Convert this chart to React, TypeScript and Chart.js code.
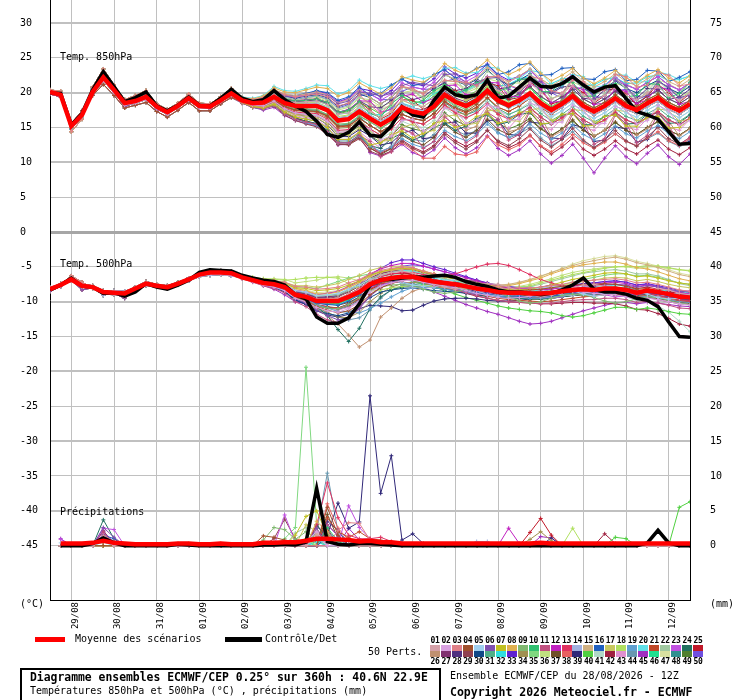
import React, { useEffect, useRef } from 'react';
import { Chart, registerables } from 'chart.js';

Chart.register(...registerables);

const FONT = '"DejaVu Sans Mono", "Liberation Mono", monospace';

// Time steps (hours after 28/08/2026 12Z)
const HOURS = [0,6,12,18,24,30,36,42,48,54,60,66,72,78,84,90,96,102,108,114,120,126,132,138,144,150,156,162,168,174,180,186,192,198,204,210,216,222,228,234,240,246,252,258,264,270,276,282,288,294,300,306,312,318,324,330,336,342,348,354,360];
const PRECIP_HOURS = [6,12,18,24,30,36,42,48,54,60,66,72,78,84,90,96,102,108,114,120,126,132,138,144,150,156,162,168,174,180,186,192,198,204,210,216,222,228,234,240,246,252,258,264,270,276,282,288,294,300,306,312,318,324,330,336,342,348,354,360];
const DAY_TICKS = [12,36,60,84,108,132,156,180,204,228,252,276,300,324,348];
const DATE_LABELS = ['29/08','30/08','31/08','01/09','02/09','03/09','04/09','05/09','06/09','07/09','08/09','09/09','10/09','11/09','12/09'];
const LEFT_TICKS = [30,25,20,15,10,5,0,-5,-10,-15,-20,-25,-30,-35,-40,-45];
const RIGHT_TICKS = [75,70,65,60,55,50,45,40,35,30,25,20,15,10,5,0];

const MEMBER_COLORS = ['#d4a0a8','#d8a0e0','#e08088','#a0502c','#a0d0f0','#8050b0','#c0c020','#e0b050','#80b870','#30c070','#c05080','#c020c0','#e03060','#a0b0e0','#d0b080','#2060c0','#c8c860','#b0e060','#60a0d0','#60e0e8','#c04828','#a0c8a0','#c050e0','#207060','#c01828',
  '#c09070','#803070','#503080','#904050','#104888','#50b088','#30e0e0','#6020d0','#a09050','#80d880','#c0e080','#705028','#e86060','#302878','#50d040','#b0d8c8','#a02040','#e090d0','#6898b0','#a030c0','#20e090','#d8e0a0','#309090','#508030','#7050e0'];

// 850 hPa temperature
const MEAN_850 = [20.1,19.7,15.2,16.8,20.1,22.2,20.4,18.5,18.8,19.4, 18.0,17.2,18.1,19.2,18.1,18.0,18.9,19.9,18.9,18.5, 18.6,19.4,18.5,18.1,18.1,18.1,17.5,16.0,16.2,17.3, 16.3,15.4,16.3,17.9,17.3,17.0,18.0,19.7,18.7,18.1, 18.9,20.3,18.9,18.2,18.9,19.9,18.5,17.5,18.4,19.5, 18.1,17.3,18.1,19.2,18.1,17.5,18.5,19.3,18.1,17.4, 18.4];
const CTRL_850 = [20.0,19.9,15.4,17.0,20.4,23.0,20.9,18.7,19.3,20.1, 18.1,17.4,18.2,19.4,18.2,18.1,19.2,20.5,19.2,18.7, 19.0,20.3,19.0,18.1,17.3,15.9,14.0,13.6,14.3,15.8, 13.9,13.7,15.2,18.0,16.8,16.5,18.9,20.8,19.7,19.4, 19.7,21.8,19.2,19.5,20.8,22.1,20.9,20.8,21.3,22.3, 21.1,20.1,20.8,21.0,19.2,17.3,16.8,16.2,14.4,12.6, 12.7];
// first 18 steps of the members (tight bundle), shared by groups of members
const HEAD_850 = [
  [20.2,19.8,15.0,16.6,20.3,22.5,20.6,18.6,19.0,19.7,18.1,17.3,18.2,19.4,18.2,18.1,19.0,20.1],
  [19.9,19.5,15.4,17.1,19.8,21.7,20.0,18.2,18.5,19.0,17.7,16.9,17.9,18.9,17.8,17.8,18.7,19.6],
  [20.4,20.2,14.4,16.2,20.8,23.4,21.1,19.0,19.6,20.3,18.4,17.6,18.5,19.8,18.5,18.4,19.4,20.6],
  [20.0,19.6,15.6,17.4,19.6,21.2,19.6,17.8,18.2,18.6,17.3,16.5,17.5,18.6,17.4,17.4,18.4,19.3],
  [20.3,20.0,14.8,16.5,20.5,22.9,20.9,18.8,19.3,20.0,18.3,17.5,18.3,19.5,18.3,18.2,19.2,20.3],
  [19.8,19.4,15.2,16.9,19.9,21.9,20.2,18.0,18.6,19.2,17.6,17.0,18.0,19.0,17.9,17.7,18.8,19.7],
];
const HEAD_IDX_850 = [0,1,2,3,4,5,0,2,1,4,3,0,5,1,2,4,5,0,3,2,1,4,5,0,2,3,4,1,5,0,1,2,4,5,3,0,2,1,4,5,3,0,2,1,5,4,3,0,2,5];
// steps 18..60 of each member
const TAIL_850 = [
  [19.0,18.7,18.9,19.8,18.9,18.6,18.7,18.8,18.3,16.9,17.1,18.3, 17.3,16.4,17.4,19.0,18.3,18.0,19.1,20.8,19.8,19.2, 20.1,21.6,20.3,19.6,20.4,21.4,20.0,19.0,19.9,21.0, 19.6,18.8,19.6,20.7,19.6,19.0,20.0,20.8,19.6,18.9,19.9],
  [18.7,18.2,18.1,18.8,17.7,17.1,16.9,16.7,15.9,14.3,14.4,15.4, 14.8,13.2,13.8,16.0,16.2,14.5,15.1,17.8,17.5,15.6, 16.0,18.2,17.9,16.0,16.2,18.5,18.0,15.6,15.8,18.2, 17.6,15.4,15.6,18.0,17.6,15.5,16.0,18.2,17.4,15.3,16.0],
  [19.3,19.0,19.3,20.4,19.7,19.4,19.6,19.8,19.4,18.1,18.5,19.7, 18.2,17.0,18.5,20.9,20.6,19.8,20.9,21.8,21.6,21.5, 21.0,22.2,22.4,21.1,20.6,22.3,22.0,20.3,19.9,21.8, 21.6,20.0,20.4,22.6,22.3,20.8,21.1,22.9,22.5,21.0,21.2],
  [18.7,18.2,18.2,18.9,18.0,17.5,17.4,17.3,16.7,15.2,15.3,16.3, 15.3,14.4,15.3,16.9,16.3,16.0,17.0,18.8,17.8,17.3, 18.3,19.8,18.5,17.9,18.7,19.8,18.6,17.8,18.7,20.0, 18.6,17.8,18.6,19.7,18.6,18.0,19.0,19.8,18.6,17.9,18.9],
  [19.1,18.7,18.8,19.7,18.7,18.3,18.4,18.5,17.9,16.4,16.6,17.8, 16.8,15.9,16.8,18.4,17.8,17.4,18.4,20.0,18.9,18.2, 18.9,20.2,18.6,17.8,18.4,19.2,17.7,16.6,17.4,18.5, 17.1,16.3,17.1,18.2,17.1,16.5,17.5,18.3,17.1,16.4,17.4],
  [19.0,18.8,19.1,20.2,19.5,19.3,19.6,19.9,19.6,18.4,18.8,20.1, 19.9,19.5,19.9,21.0,21.5,21.2,21.0,22.6,22.7,21.4, 21.1,22.3,22.2,20.5,20.0,21.5,21.6,20.1,19.8,21.9, 21.3,19.2,19.5,21.8,21.0,19.0,19.6,21.6,20.8,19.2,19.8],
  [18.6,18.0,17.8,18.3,17.2,16.5,16.2,15.9,15.0,13.3,13.3,14.3, 12.5,12.8,14.0,14.5,13.5,14.2,15.6,16.0,15.0,15.5, 16.6,17.0,15.6,16.0,17.2,17.3,15.5,15.7,16.9,17.0, 15.2,15.3,16.6,16.8,15.2,15.2,16.5,16.6,14.9,15.0,16.2],
  [19.3,19.1,19.5,20.7,20.1,20.0,20.4,20.8,20.6,19.5,20.0,21.4, 20.6,19.8,20.7,22.3,21.8,21.5,22.5,24.2,23.2,22.6, 23.4,24.7,23.3,22.6,23.3,24.4,22.8,21.7,22.5,23.5, 22.1,21.3,22.1,23.2,22.1,21.5,22.5,23.3,22.1,21.4,22.4],
  [18.8,18.4,18.4,19.1,18.2,17.7,17.7,17.6,16.9,15.5,15.6,16.7, 15.8,14.9,15.8,17.4,16.8,16.5,17.5,19.2,18.2,17.6, 18.5,20.0,18.7,18.1,18.9,20.0,18.8,17.9,18.9,20.0, 18.6,17.8,18.6,19.7,18.6,18.0,19.0,19.8,18.6,17.9,18.9],
  [19.1,18.8,19.0,19.9,19.1,18.8,18.9,19.1,18.6,17.2,17.5,18.7, 17.0,16.5,18.4,19.6,18.4,18.9,20.3,21.1,20.0,20.4, 21.4,21.9,20.2,20.7,21.9,22.0,20.1,20.2,21.5,21.5, 19.5,19.5,21.0,21.3,19.4,19.6,21.3,21.2,19.3,19.9,21.5],
  [18.5,17.9,17.7,18.2,17.0,16.2,15.8,15.5,14.4,12.8,12.8,13.9, 13.0,10.8,11.5,14.8,14.2,12.0,13.0,16.5,15.3,12.8, 13.8,17.2,16.2,13.2,14.0,17.4,16.0,12.8,13.6,17.0, 15.8,12.6,13.4,16.8,15.6,12.8,13.9,17.0,15.4,12.5,13.6],
  [19.1,18.8,19.0,19.9,19.1,18.8,19.0,19.1,18.6,17.2,17.6,18.8, 18.8,17.2,17.6,19.5,19.8,18.6,19.2,21.0,21.1,19.7, 19.8,21.5,21.4,19.5,19.4,21.2,20.6,18.6,18.8,21.0, 20.4,18.3,18.5,20.6,20.2,18.4,19.0,20.9,20.4,18.3,18.8],
  [18.7,18.2,18.1,18.8,17.8,17.2,17.1,17.0,16.2,14.6,14.7,15.8, 14.8,13.9,14.8,16.4,15.8,15.5,16.5,18.2,17.1,16.4, 17.1,18.4,16.9,16.2,16.9,17.9,16.5,15.5,16.4,17.5, 16.1,15.3,16.1,17.2,16.1,15.5,16.5,17.3,16.1,15.4,16.4],
  [18.8,18.5,18.5,19.3,18.5,18.0,18.1,18.0,17.5,15.9,16.2,17.2, 16.3,15.4,16.3,17.9,17.3,17.0,18.0,19.6,18.6,18.0, 18.7,20.0,18.5,17.8,18.4,19.4,18.0,17.0,17.9,19.0, 17.6,16.8,17.6,18.7,17.6,17.0,18.0,18.8,17.6,16.9,17.9],
  [19.3,19.0,19.4,20.5,19.8,19.6,19.8,20.1,19.7,18.5,19.0,20.3, 19.3,18.4,19.3,20.9,20.3,20.0,21.0,22.7,21.8,21.2, 22.1,23.6,22.3,21.6,22.4,23.4,22.0,21.0,21.9,23.0, 21.6,20.8,21.6,22.7,21.6,21.0,22.0,22.8,21.6,20.9,21.9],
  [19.2,19.0,19.3,20.4,19.7,19.6,19.9,20.3,20.0,18.9,19.4,20.8, 19.6,19.9,21.1,22.0,21.0,21.3,22.6,23.3,22.1,22.6, 23.5,24.0,22.6,23.0,24.0,24.2,22.5,22.6,23.5,23.6, 22.0,21.9,23.0,23.3,21.7,21.9,23.2,23.1,21.6,22.2,23.0],
  [18.6,18.0,17.9,18.5,17.4,16.8,16.6,16.4,15.5,13.8,13.9,14.9, 14.6,13.0,13.2,15.0,15.5,14.2,14.6,16.6,16.8,15.4, 15.6,17.4,17.5,16.0,15.9,17.6,17.7,16.1,16.0,17.6, 17.4,15.8,15.9,17.5,17.3,16.0,16.2,17.7,17.4,15.9,16.2],
  [18.9,18.6,18.8,19.6,18.8,18.4,18.5,18.6,18.0,16.6,16.8,18.0, 17.3,16.4,17.3,18.9,18.3,18.0,19.0,20.7,19.6,18.9, 19.6,20.9,19.4,18.6,19.2,20.1,18.6,17.5,18.4,19.5, 18.1,17.3,18.1,19.2,18.1,17.5,18.5,19.3,18.1,17.4,18.4],
  [18.5,17.9,17.7,18.2,17.0,16.2,15.7,15.3,14.3,12.8,12.8,13.8, 12.3,11.6,12.2,13.4,12.6,12.1,13.0,14.6,13.7,13.1, 14.0,15.5,14.2,13.6,14.4,15.5,14.2,13.3,14.2,15.4, 14.0,13.2,14.1,15.2,14.1,13.5,14.5,15.3,14.1,13.4,14.4],
  [19.4,19.2,19.6,20.9,20.3,20.2,20.6,21.1,21.0,19.8,20.3,21.8, 21.0,20.6,21.0,22.0,22.4,22.0,22.5,23.5,23.6,22.8, 22.9,23.7,23.5,22.1,22.0,23.2,22.9,21.2,21.0,22.6, 22.3,20.8,21.0,22.6,22.5,21.5,21.6,23.0,22.6,21.9,22.4],
  [18.7,18.3,18.3,19.0,18.0,17.5,17.4,17.3,16.6,15.1,15.2,16.3, 15.3,14.4,15.3,16.9,16.3,16.0,17.0,18.7,17.7,17.1, 17.9,19.3,17.9,17.3,18.1,19.2,17.9,16.9,17.9,19.0, 17.6,16.8,17.6,18.7,17.6,17.0,18.0,18.8,17.6,16.9,17.9],
  [19.1,18.8,19.1,20.1,19.3,19.0,19.2,19.5,19.0,17.7,18.1,19.4, 18.5,17.5,18.2,20.8,20.3,19.3,20.1,22.5,22.0,20.2, 20.9,23.1,22.0,20.1,20.5,22.6,21.3,19.1,19.9,22.2, 20.6,18.7,19.8,21.9,20.6,18.9,20.2,21.8,20.2,18.8,20.1],
  [19.1,18.9,19.2,20.3,19.6,19.4,19.8,20.1,19.8,18.6,19.1,20.4, 19.8,18.9,19.8,21.4,20.8,20.5,21.5,23.2,22.2,21.6, 22.4,23.8,22.4,21.6,22.3,23.2,21.7,20.6,21.5,22.6, 21.1,20.3,21.1,22.2,21.1,20.5,21.5,22.3,21.1,20.4,21.4],
  [18.6,17.9,17.7,18.2,17.0,16.3,15.9,15.6,14.6,12.9,12.9,13.9, 12.4,12.0,13.4,14.2,13.2,13.8,15.0,15.6,14.6,15.2, 16.3,16.8,15.4,15.8,16.9,17.1,15.5,15.6,16.8,17.0, 15.4,15.4,16.6,16.9,15.5,15.6,16.9,17.1,15.6,15.7,16.8],
  [19.2,18.8,19.0,20.0,19.1,18.8,18.9,19.1,18.6,17.2,17.5,18.7, 17.5,16.2,17.0,19.0,18.9,17.6,18.4,20.6,20.3,19.0, 19.5,21.4,21.0,19.0,19.3,21.5,20.5,18.4,18.8,21.0, 20.0,18.5,19.6,21.0,19.8,18.3,19.5,21.2,20.0,18.6,19.9],
  [18.6,18.1,18.0,18.6,17.5,16.9,16.8,16.6,15.8,14.3,14.4,15.4, 14.8,13.0,13.5,16.2,16.0,14.0,14.8,17.9,17.2,14.6, 15.2,17.8,17.0,14.4,14.8,17.6,16.6,13.7,14.5,17.3, 16.2,13.8,14.6,17.0,16.0,13.9,14.8,17.2,15.9,13.8,14.8],
  [19.1,18.7,18.8,19.7,18.8,18.4,18.5,18.5,17.9,16.4,16.6,17.8, 16.8,15.9,16.8,18.4,17.8,17.5,18.5,20.2,19.2,18.7, 19.5,21.0,19.7,19.1,19.9,20.9,19.5,18.5,19.4,20.5, 19.1,18.3,19.1,20.2,19.1,18.5,19.5,20.3,19.1,18.4,19.4],
  [18.9,18.7,18.9,19.8,19.0,18.7,18.8,19.0,18.5,17.1,17.5,18.8, 18.0,17.8,18.9,19.9,19.0,19.4,20.6,21.4,20.3,20.6, 21.6,22.0,20.5,20.8,21.9,22.0,20.2,19.9,20.8,21.0, 19.2,19.0,20.4,20.5,19.0,19.2,20.6,20.5,19.0,19.4,20.5],
  [18.5,17.9,17.7,18.1,16.8,16.0,15.5,15.1,14.0,12.6,12.5,13.4, 11.6,11.0,11.6,13.0,12.0,11.3,12.2,14.0,12.8,11.9, 12.9,14.6,13.1,12.4,13.4,14.8,13.2,12.2,13.3,14.9, 13.2,12.1,13.2,14.6,13.1,12.3,13.7,15.0,13.4,12.6,13.6],
  [19.1,18.9,19.2,20.2,19.5,19.2,19.5,19.7,19.3,18.0,18.5,19.8, 19.3,18.4,19.3,20.9,20.3,20.0,21.0,22.7,21.7,21.1, 21.9,23.3,21.9,21.1,21.8,22.7,21.2,20.1,21.0,22.1, 20.6,19.8,20.6,21.7,20.6,20.0,21.0,21.8,20.6,19.9,20.9],
  [18.7,18.3,18.5,19.2,18.1,17.6,17.5,17.4,16.7,15.3,15.5,16.6, 15.8,14.9,15.8,17.4,16.8,16.5,17.5,19.1,18.0,17.3, 17.9,19.2,17.7,16.9,17.5,18.4,17.0,16.0,16.9,18.0, 16.6,15.8,16.6,17.7,16.6,16.0,17.0,17.8,16.6,15.9,16.9],
  [19.2,18.8,19.0,19.9,19.0,18.6,18.7,18.8,18.3,16.9,17.1,18.3, 17.0,16.8,17.8,18.5,18.0,18.6,19.9,20.5,19.8,20.3, 21.1,21.7,20.9,21.2,22.0,22.3,21.2,21.3,22.0,22.1, 21.0,21.1,21.9,22.2,21.3,21.4,22.3,22.5,21.7,21.9,22.4],
  [19.2,18.9,19.2,20.3,19.6,19.5,19.8,20.2,19.9,18.7,19.2,20.6, 20.3,19.4,20.3,21.9,21.3,21.0,22.0,23.7,22.7,22.1, 22.8,24.1,22.6,21.8,22.4,23.3,21.7,20.6,21.5,22.6, 21.1,20.3,21.1,22.2,21.1,20.5,21.5,22.3,21.1,20.4,21.4],
  [18.8,18.3,18.2,18.9,17.9,17.4,17.3,17.2,16.4,14.9,15.0,16.1, 14.8,13.9,14.8,16.4,15.8,15.5,16.5,18.3,17.3,16.8, 17.7,19.2,17.9,17.3,18.1,19.2,17.9,16.9,17.9,19.0, 17.6,16.8,17.6,18.7,17.6,17.0,18.0,18.8,17.6,16.9,17.9],
  [18.8,18.5,18.6,19.5,18.6,18.2,18.3,18.4,17.8,16.4,16.6,17.8, 16.8,15.9,16.8,18.4,17.8,17.5,18.5,20.2,19.1,18.4, 19.1,20.4,18.9,18.1,18.7,19.6,18.1,17.0,17.9,19.0, 17.6,16.8,17.6,18.7,17.6,17.0,18.0,18.8,17.6,16.9,17.9],
  [19.0,18.8,19.0,20.0,19.2,18.9,19.1,19.3,18.8,17.5,17.9,19.2, 19.0,18.0,18.6,20.0,20.3,19.1,19.8,21.7,21.6,20.0, 20.6,22.0,21.6,19.8,20.1,21.8,21.3,19.2,19.6,21.5, 20.9,19.0,19.6,21.3,20.9,19.1,19.8,21.5,20.9,19.4,20.0],
  [18.7,18.0,17.8,18.3,17.1,16.3,15.9,15.5,14.4,12.6,12.6,13.7, 12.1,11.1,12.0,13.9,13.0,12.5,13.6,15.5,14.3,13.6, 14.6,16.2,14.7,14.0,14.9,16.1,14.8,13.8,14.8,16.1, 14.6,13.7,14.6,15.8,14.6,14.0,15.0,15.9,14.6,13.9,14.9],
  [18.5,18.0,17.8,18.3,17.1,16.3,15.8,15.3,14.2,12.7,12.6,13.5, 12.0,11.5,12.2,12.8,11.8,10.6,10.6,12.3,11.2,11.0, 11.5,13.7,12.5,11.8,12.5,13.8,12.4,11.5,12.6,14.0, 12.8,12.0,12.9,14.1,13.0,12.4,13.5,14.4,13.1,12.4,13.4],
  [18.8,18.1,18.0,18.6,17.5,16.9,16.6,16.4,15.4,13.7,13.7,14.7, 13.8,12.5,12.8,14.2,14.6,13.4,13.6,15.6,15.8,14.2, 14.2,16.0,16.1,14.0,13.9,15.8,15.6,13.5,13.4,15.4, 15.0,13.0,13.2,15.1,14.8,12.9,13.3,15.2,14.6,12.6,13.0],
  [18.9,18.6,18.8,19.7,18.9,18.6,18.7,18.9,18.4,17.0,17.3,18.6, 17.8,16.9,17.8,19.4,18.8,18.5,19.5,21.2,20.1,19.5, 20.2,21.5,20.0,19.2,19.8,20.7,19.1,18.0,18.9,20.0, 18.6,17.8,18.6,19.7,18.6,18.0,19.0,19.8,18.6,17.9,18.9],
  [18.7,18.2,18.1,18.7,17.6,17.0,16.9,16.8,16.0,14.5,14.6,15.6, 14.3,13.4,14.3,15.9,15.3,15.0,16.0,17.8,16.8,16.3, 17.2,18.7,17.4,16.8,17.6,18.7,17.4,16.4,17.4,18.5, 17.1,16.3,17.1,18.2,17.1,16.5,17.5,18.3,17.1,16.4,17.4],
  [18.6,18.0,17.8,18.3,17.1,16.4,15.9,15.5,14.5,12.9,12.8,13.8, 12.0,11.3,12.0,13.2,12.2,11.5,12.4,14.3,13.1,12.3, 13.1,14.6,12.9,12.1,12.8,13.9,12.3,11.2,12.2,13.5, 11.9,11.0,11.9,13.1,11.9,11.2,12.3,13.2,11.9,11.1,12.1],
  [18.8,18.2,18.0,18.6,17.4,16.7,16.4,16.1,15.1,13.3,13.3,14.4, 13.2,12.0,13.6,15.0,14.0,13.6,15.2,16.8,15.0,14.9, 16.2,17.2,15.0,14.9,16.6,17.4,15.2,14.7,16.3,17.4, 15.0,14.6,16.1,17.1,15.0,14.7,16.3,17.2,15.0,14.6,16.2],
  [18.7,18.1,17.9,18.4,17.2,16.5,16.2,15.9,14.9,13.2,13.2,14.1, 12.3,11.4,12.3,13.9,13.3,13.0,14.0,15.7,14.6,13.9, 14.6,15.9,14.3,13.5,14.1,15.0,13.5,12.4,13.3,14.4, 13.0,12.2,13.0,14.1,13.0,12.4,13.4,14.2,13.0,12.3,13.3],
  [18.5,17.9,17.5,17.9,16.7,16.0,15.6,15.2,14.2,12.5,12.6,13.7, 11.4,10.9,11.6,12.6,11.4,10.8,11.8,13.5,12.1,11.2, 12.1,13.8,12.0,11.0,11.8,13.1,11.2,9.9,11.0,12.6, 10.6,8.5,10.6,12.4,10.8,9.8,11.3,12.5,10.8,9.7,11.2],
  [19.0,18.6,18.7,19.5,18.6,18.2,18.2,18.2,17.6,16.0,16.3,17.4, 16.4,15.5,16.4,18.0,17.4,17.1,18.1,19.9,18.9,18.4, 19.3,20.8,19.5,18.9,19.7,20.8,19.4,18.5,19.4,20.5, 19.1,18.3,19.1,20.2,19.1,18.5,19.5,20.3,19.1,18.4,19.4],
  [18.8,18.6,18.8,19.7,18.9,18.6,18.8,18.9,18.4,17.1,17.5,18.7, 18.5,17.9,18.0,19.4,19.6,19.5,19.9,21.2,21.3,20.7, 21.0,22.2,22.0,21.3,21.4,22.4,22.0,21.0,20.9,22.0, 21.5,20.5,20.5,21.8,21.4,20.4,20.6,21.8,21.3,20.4,20.8],
  [18.9,18.4,18.4,19.2,18.1,17.6,17.6,17.5,16.8,15.3,15.4,16.5, 15.3,14.4,15.3,16.9,16.3,16.0,17.0,18.6,17.5,16.8, 17.4,18.7,17.2,16.4,17.0,17.9,16.5,15.5,16.4,17.5, 16.1,15.3,16.1,17.2,16.1,15.5,16.5,17.3,16.1,15.4,16.4],
  [18.9,18.3,18.2,18.8,17.7,17.1,16.9,16.7,15.8,14.1,14.2,15.2, 13.8,12.9,13.8,15.4,14.8,14.5,15.5,17.1,16.0,15.3, 15.9,17.1,15.6,14.8,15.4,16.3,14.9,13.9,14.8,15.9, 14.6,13.8,14.6,15.7,14.6,14.0,15.0,15.8,14.6,13.9,14.9],
  [19.0,18.7,19.0,20.0,19.3,19.0,19.3,19.5,19.1,17.8,18.3,19.6, 19.8,19.0,19.0,20.2,20.8,20.5,20.5,21.6,22.0,21.3, 21.0,22.0,22.2,21.0,20.5,21.3,21.5,20.0,19.2,20.4, 20.8,19.6,19.1,20.2,20.5,19.5,19.4,20.5,20.6,19.3,19.6],
];

// 500 hPa temperature
const MEAN_500 = [-8.2,-7.6,-6.8,-7.7,-7.9,-8.6,-8.7,-8.8,-8.1,-7.4, -7.7,-7.9,-7.4,-6.8,-6.1,-5.8,-5.8,-5.9,-6.5,-6.9, -7.3,-7.5,-7.9,-9.0,-9.3,-9.9,-9.9,-9.9,-9.3,-8.6, -7.5,-6.9,-6.6,-6.4,-6.4,-6.8,-7.1,-7.3,-7.5,-7.8, -8.1,-8.3,-8.6,-8.7,-8.7,-8.8,-8.8,-8.7,-8.5,-8.3, -8.2,-8.3,-8.1,-8.1,-8.3,-8.7,-8.4,-8.6,-8.9,-9.3, -9.4];
const CTRL_500 = [-8.3,-7.6,-6.6,-7.8,-7.9,-8.8,-8.7,-9.2,-8.6,-7.4, -7.9,-8.2,-7.6,-6.9,-5.8,-5.4,-5.5,-5.6,-6.2,-6.6, -6.9,-7.1,-7.6,-9.0,-9.6,-12.2,-13.1,-13.1,-12.3,-10.3, -7.6,-6.8,-6.8,-6.6,-6.4,-6.5,-6.3,-6.2,-6.5,-7.1, -7.5,-7.8,-8.3,-8.6,-8.6,-8.8,-9.0,-8.8,-8.3,-7.6, -6.6,-8.2,-8.6,-8.6,-8.9,-9.5,-9.8,-10.7,-12.9,-15.0, -15.1];
const HEAD_500 = [
  [-8.0,-7.4,-6.5,-7.5,-7.7,-8.4,-8.5,-8.6,-7.9,-7.1,-7.5,-7.7,-7.2,-6.6,-5.9,-5.5,-5.5,-5.7],
  [-8.4,-7.8,-7.0,-7.9,-8.1,-8.9,-9.0,-9.1,-8.4,-7.7,-7.9,-8.1,-7.6,-7.0,-6.3,-6.0,-6.1,-6.2],
  [-8.1,-7.5,-6.3,-7.2,-8.0,-8.7,-8.6,-9.3,-8.0,-7.3,-7.6,-8.0,-7.5,-6.9,-6.2,-5.9,-5.7,-5.8],
  [-8.3,-7.7,-6.9,-7.9,-7.8,-8.5,-8.9,-8.7,-8.2,-7.5,-7.8,-7.8,-7.3,-6.7,-6.0,-5.7,-5.9,-6.1],
  [-8.0,-7.5,-6.7,-7.5,-7.9,-9.1,-8.4,-8.5,-8.0,-7.2,-7.6,-7.9,-7.6,-7.0,-6.4,-6.2,-6.1,-6.3],
  [-8.5,-7.8,-6.9,-8.3,-8.0,-8.6,-8.8,-9.5,-8.3,-7.6,-7.7,-7.8,-7.3,-6.6,-6.0,-5.7,-5.6,-5.8],
];
const HEAD_IDX_500 = [0,1,2,3,4,5,1,2,3,0,5,4,2,3,0,1,4,5,3,2,0,1,5,4,2,3,4,0,1,5,3,2,0,4,1,5,2,0,3,4,5,1,0,2,3,4,5,1,2,0];
const TAIL_500 = [
  [-6.4,-6.8,-7.2,-7.4,-7.8,-8.8,-9.1,-9.6,-9.6,-9.5,-8.9,-8.2, -7.0,-6.2,-5.8,-5.6,-5.9,-6.6,-7.4,-7.9,-8.2,-8.0, -7.6,-7.4,-7.5,-7.9,-8.5,-9.0,-9.3,-9.1,-8.6,-8.0, -7.6,-7.5,-7.8,-8.2,-8.6,-8.8,-8.4,-8.1,-8.3,-8.8,-9.0],
  [-6.6,-7.1,-7.6,-7.9,-8.4,-9.5,-10.0,-10.8,-11.3,-11.5,-11.0,-10.0, -8.6,-7.8,-7.3,-7.0,-6.9,-7.2,-7.5,-7.8,-8.0,-8.4, -8.8,-9.1,-9.4,-9.5,-9.4,-9.2,-9.0,-8.8,-8.6,-8.5, -8.6,-8.8,-8.9,-9.0,-9.3,-9.6,-9.5,-9.7,-10.0,-10.3,-10.5],
  [-6.3,-6.6,-6.9,-7.0,-7.2,-7.8,-7.9,-8.2,-8.1,-7.9,-7.3,-6.8, -6.0,-5.5,-5.2,-5.0,-5.1,-5.6,-6.0,-6.3,-6.6,-7.0, -7.4,-7.7,-8.0,-8.1,-8.0,-8.0,-7.9,-7.7,-7.5,-7.2, -7.0,-6.9,-6.8,-6.7,-6.9,-7.3,-7.2,-7.5,-7.9,-8.3,-8.5],
  [-6.5,-6.9,-7.4,-7.7,-8.2,-9.4,-9.9,-10.7,-11.2,-11.6,-11.3,-10.4, -9.0,-8.0,-7.4,-7.0,-6.8,-7.0,-7.2,-7.4,-7.6,-7.9, -8.2,-8.3,-8.5,-8.5,-8.4,-8.3,-8.2,-8.0,-7.8,-7.6, -7.5,-7.5,-7.4,-7.5,-7.8,-8.2,-8.1,-8.4,-8.8,-9.2,-9.4],
  [-6.5,-6.8,-7.1,-7.2,-7.5,-8.4,-8.6,-9.1,-9.0,-8.8,-8.2,-7.6, -6.8,-6.6,-6.8,-7.2,-7.6,-7.8,-7.5,-7.0,-6.8,-7.0, -7.5,-8.1,-8.6,-8.9,-8.8,-8.4,-8.0,-7.8,-8.0,-8.4, -8.9,-9.2,-9.0,-8.6,-8.3,-8.5,-8.9,-9.4,-9.6,-9.5,-9.3],
  [-6.6,-7.0,-7.5,-7.8,-8.3,-9.6,-10.2,-11.2,-12.0,-12.6,-12.3,-11.0, -9.2,-8.0,-7.2,-6.7,-6.5,-6.7,-6.9,-7.1,-7.3,-7.6, -7.9,-8.1,-8.3,-8.4,-8.5,-8.6,-8.7,-8.6,-8.4,-8.1, -7.9,-7.8,-7.6,-7.5,-7.6,-7.9,-7.7,-7.9,-8.2,-8.5,-8.6],
  [-6.4,-6.7,-7.0,-7.1,-7.4,-8.0,-8.1,-8.4,-8.3,-8.1,-7.6,-7.0, -6.2,-5.7,-5.4,-5.2,-5.3,-5.7,-6.1,-6.4,-6.8,-7.2, -7.6,-7.9,-8.2,-8.3,-8.3,-8.2,-8.0,-7.6,-7.2,-6.8, -6.5,-6.2,-5.9,-5.8,-6.0,-6.4,-6.3,-6.6,-7.0,-7.3,-7.5],
  [-6.3,-6.6,-6.9,-7.0,-7.3,-8.1,-8.4,-8.9,-8.9,-8.6,-7.9,-7.2, -6.3,-5.7,-5.3,-5.1,-5.2,-5.6,-6.0,-6.3,-6.7,-7.1, -7.4,-7.6,-7.8,-7.7,-7.4,-7.0,-6.6,-6.0,-5.5,-5.0, -4.7,-4.5,-4.3,-4.3,-4.6,-5.1,-5.3,-5.7,-6.2,-6.7,-7.0],
  [-6.6,-7.0,-7.5,-7.8,-8.3,-9.5,-9.9,-10.6,-10.9,-11.0,-10.4,-9.4, -8.4,-7.9,-7.6,-7.5,-7.7,-8.2,-8.6,-8.8,-8.6,-8.2, -8.0,-8.1,-8.6,-9.3,-9.9,-10.2,-10.0,-9.5,-9.1,-8.9, -9.0,-9.4,-9.9,-10.2,-10.0,-9.6,-9.3,-9.4,-9.8,-10.2,-10.4],
  [-6.5,-6.9,-7.3,-7.5,-7.9,-9.0,-9.4,-10.0,-10.1,-10.2,-9.6,-8.8, -7.6,-6.9,-6.5,-6.3,-6.3,-6.6,-6.9,-7.1,-7.4,-7.7, -8.0,-8.2,-8.4,-8.5,-8.5,-8.6,-8.6,-8.5,-8.3,-8.1, -8.0,-8.1,-7.9,-7.9,-8.1,-8.5,-8.3,-8.5,-8.8,-9.1,-9.2],
  [-6.7,-7.2,-7.7,-8.1,-8.7,-10.0,-10.7,-11.8,-12.6,-13.0,-12.4,-10.9, -9.0,-7.9,-7.3,-7.0,-6.9,-7.2,-7.6,-7.9,-8.3,-8.7, -9.1,-9.5,-9.8,-10.0,-10.1,-10.2,-10.3,-10.2,-10.0,-9.8, -9.7,-9.7,-9.5,-9.5,-9.7,-10.1,-9.9,-10.2,-10.5,-10.9,-11.0],
  [-6.4,-6.8,-7.2,-7.3,-7.6,-8.4,-8.6,-9.0,-8.8,-8.5,-7.8,-7.0, -6.0,-5.3,-4.8,-4.5,-4.5,-4.9,-5.3,-5.7,-6.1,-6.6, -7.0,-7.4,-7.8,-8.0,-8.1,-8.2,-8.3,-8.2,-8.0,-7.8, -7.6,-7.5,-7.3,-7.2,-7.4,-7.8,-7.6,-7.9,-8.3,-8.7,-8.9],
  [-6.5,-6.9,-7.3,-7.5,-7.9,-8.9,-9.2,-9.8,-9.7,-9.6,-8.9,-8.1, -7.0,-6.4,-6.0,-5.8,-5.8,-6.1,-6.3,-6.3,-6.0,-5.5, -5.0,-4.6,-4.5,-4.8,-5.4,-6.1,-6.8,-7.3,-7.7,-8.0, -8.1,-8.3,-8.3,-8.4,-8.6,-9.0,-8.8,-9.1,-9.4,-9.7,-9.9],
  [-6.4,-6.8,-7.2,-7.4,-7.8,-8.8,-9.2,-9.8,-9.9,-9.8,-9.2,-8.4, -7.2,-6.8,-6.9,-7.4,-7.9,-8.1,-7.9,-7.6,-7.5,-7.8, -8.4,-9.0,-9.2,-8.9,-8.4,-8.1,-8.2,-8.6,-9.0,-9.1, -8.8,-8.4,-8.1,-8.3,-8.9,-9.4,-9.6,-9.3,-8.9,-8.8,-9.0],
  [-6.5,-6.8,-7.1,-7.2,-7.5,-8.3,-8.5,-8.9,-8.8,-8.6,-8.0,-7.3, -6.4,-5.8,-5.5,-5.3,-5.3,-5.7,-6.1,-6.4,-6.7,-7.0, -7.3,-7.5,-7.6,-7.5,-7.2,-6.8,-6.3,-5.8,-5.3,-4.8, -4.4,-4.1,-3.8,-3.6,-3.9,-4.4,-4.7,-5.1,-5.6,-6.1,-6.4],
  [-6.6,-7.0,-7.4,-7.7,-8.1,-9.2,-9.6,-10.2,-10.4,-10.5,-9.9,-9.0, -7.8,-7.1,-6.8,-6.6,-6.7,-7.1,-7.5,-7.8,-8.1,-8.4, -8.7,-8.9,-9.1,-9.2,-9.2,-9.3,-9.3,-9.2,-9.0,-8.8, -8.6,-8.6,-8.4,-8.4,-8.6,-9.0,-8.8,-9.0,-9.3,-9.6,-9.7],
  [-6.3,-6.6,-6.9,-7.0,-7.2,-7.7,-7.7,-7.9,-7.7,-7.4,-6.8,-6.2, -5.5,-5.1,-4.9,-4.9,-5.1,-5.6,-6.0,-6.4,-6.8,-7.2, -7.6,-7.9,-8.2,-8.3,-8.3,-8.3,-8.2,-8.0,-7.7,-7.4, -7.1,-6.9,-6.6,-6.5,-6.6,-7.0,-6.8,-7.1,-7.5,-7.8,-8.0],
  [-6.3,-6.5,-6.7,-6.8,-6.9,-6.8,-6.6,-6.5,-6.5,-6.6,-7.4,-8.1, -8.5,-8.3,-8.0,-7.8,-7.7,-7.7,-7.8,-7.9,-8.0,-8.1, -8.2,-8.3,-8.3,-8.2,-8.0,-7.7,-7.3,-6.9,-6.5,-6.1, -5.8,-5.5,-5.2,-5.0,-4.9,-5.0,-4.8,-4.9,-5.1,-5.4,-5.6],
  [-6.5,-6.9,-7.3,-7.6,-8.0,-9.1,-9.6,-10.4,-10.9,-11.4,-11.5,-11.6, -11.0,-10.2,-9.3,-8.5,-8.0,-7.9,-8.0,-8.2,-8.4,-8.6, -8.8,-9.0,-9.2,-9.3,-9.4,-9.5,-9.5,-9.4,-9.2,-9.0, -8.9,-8.9,-8.8,-8.8,-9.0,-9.4,-9.2,-9.4,-9.7,-10.0,-10.1],
  [-6.4,-6.8,-7.2,-7.4,-7.8,-8.9,-9.3,-9.9,-10.0,-10.0,-9.4,-8.6, -7.4,-6.4,-5.8,-5.5,-5.6,-6.1,-6.6,-6.9,-7.0,-7.2, -7.6,-8.2,-8.7,-9.0,-9.0,-8.6,-8.2,-8.0,-8.1,-8.5, -8.6,-8.3,-7.8,-7.6,-7.8,-8.3,-8.6,-8.5,-8.3,-8.5,-8.8],
  [-6.6,-7.0,-7.4,-7.7,-8.1,-9.2,-9.7,-10.4,-10.7,-10.9,-10.4,-9.5, -8.2,-7.4,-6.9,-6.7,-6.7,-7.0,-7.4,-7.7,-8.0,-8.4, -8.8,-9.2,-9.5,-9.7,-9.8,-9.9,-10.0,-9.9,-9.7,-9.5, -9.3,-9.2,-9.0,-8.9,-9.0,-9.3,-9.1,-9.3,-9.6,-9.9,-10.0],
  [-6.4,-6.7,-7.1,-7.2,-7.5,-8.4,-8.7,-9.2,-9.1,-9.0,-8.4,-7.7, -6.7,-6.1,-5.8,-5.6,-5.6,-6.0,-6.4,-6.7,-7.0,-7.4, -7.7,-7.9,-8.1,-8.1,-8.0,-7.8,-7.5,-7.1,-6.7,-6.3, -5.9,-5.7,-5.5,-5.4,-5.6,-6.0,-6.0,-6.3,-6.8,-7.4,-7.7],
  [-6.5,-6.9,-7.3,-7.5,-7.9,-9.0,-9.4,-10.0,-10.1,-10.1,-9.5,-8.7, -7.9,-7.6,-7.2,-6.8,-6.6,-6.7,-6.9,-7.4,-8.0,-8.6, -8.9,-8.8,-8.4,-8.1,-8.2,-8.7,-9.2,-9.5,-9.3,-8.8, -8.5,-8.6,-9.0,-9.3,-9.2,-8.8,-8.4,-8.4,-8.8,-9.4,-9.6],
  [-6.5,-6.9,-7.3,-7.6,-8.1,-9.3,-9.8,-10.7,-12.0,-14.0,-15.7,-13.8, -11.0,-9.3,-8.3,-7.9,-7.8,-7.9,-8.0,-8.2,-8.4,-8.6, -8.9,-9.1,-9.3,-9.4,-9.5,-9.6,-9.6,-9.5,-9.3,-9.1, -8.9,-8.8,-8.6,-8.6,-8.7,-9.1,-8.9,-9.1,-9.4,-9.7,-9.8],
  [-6.5,-6.9,-7.3,-7.5,-7.9,-8.9,-9.3,-9.9,-9.9,-9.8,-9.1,-8.3, -7.1,-6.4,-6.0,-5.9,-6.0,-6.4,-6.8,-7.1,-7.4,-7.7, -8.0,-8.2,-8.3,-8.3,-8.3,-8.3,-8.2,-8.1,-7.9,-7.7, -7.6,-7.6,-7.5,-7.5,-7.7,-8.1,-7.9,-8.2,-8.5,-8.9,-9.0],
  [-6.6,-7.0,-7.5,-7.8,-8.3,-9.5,-10.1,-11.0,-12.0,-13.2,-14.8,-16.5, -15.5,-12.2,-10.9,-9.5,-8.5,-8.0,-7.8,-7.9,-8.1,-8.4, -8.7,-8.9,-9.1,-9.2,-9.3,-9.4,-9.4,-9.3,-9.1,-8.9, -8.8,-8.8,-8.6,-8.6,-8.8,-9.2,-9.0,-9.2,-9.5,-9.8,-9.9],
  [-6.4,-6.8,-7.2,-7.4,-7.7,-8.6,-8.9,-9.4,-9.3,-9.1,-8.4,-7.6, -6.6,-5.9,-5.6,-5.7,-6.2,-6.9,-7.4,-7.5,-7.3,-7.0, -7.0,-7.4,-8.0,-8.5,-8.6,-8.3,-7.9,-7.6,-7.6,-8.0, -8.5,-8.8,-8.6,-8.2,-8.0,-8.3,-8.7,-8.9,-8.7,-8.6,-8.8],
  [-6.6,-7.0,-7.5,-7.8,-8.3,-9.4,-9.9,-10.6,-10.8,-10.9,-10.3,-9.3, -8.0,-7.2,-6.7,-6.5,-6.5,-6.9,-7.3,-7.6,-7.9,-8.2, -8.5,-8.7,-8.9,-9.0,-9.0,-9.0,-9.0,-8.9,-8.7,-8.5, -8.4,-8.4,-8.3,-8.3,-8.5,-8.9,-8.7,-8.9,-9.2,-9.5,-9.6],
  [-6.5,-6.8,-7.2,-7.4,-7.7,-8.7,-9.0,-9.5,-9.5,-9.3,-8.6,-7.8, -6.7,-6.0,-5.6,-5.4,-5.4,-5.8,-6.1,-6.4,-6.6,-6.9, -7.2,-7.5,-7.8,-8.0,-8.2,-8.4,-8.6,-8.7,-8.7,-8.7, -8.8,-8.9,-8.9,-9.0,-9.2,-9.6,-9.4,-9.7,-10.0,-10.3,-10.4],
  [-6.6,-7.1,-7.6,-7.9,-8.5,-9.7,-10.3,-11.2,-11.7,-12.0,-11.6,-10.6, -9.4,-8.6,-8.3,-8.1,-8.0,-8.2,-8.4,-8.5,-8.6,-8.8, -9.0,-9.2,-9.3,-9.4,-9.4,-9.5,-9.4,-9.3,-9.1,-8.9, -8.8,-8.7,-8.6,-8.6,-8.7,-9.0,-8.9,-9.1,-9.4,-9.7,-9.8],
  [-6.4,-6.8,-7.1,-7.3,-7.6,-8.5,-8.7,-9.2,-9.1,-8.9,-8.2,-7.5, -7.0,-6.7,-6.9,-7.3,-7.5,-7.4,-7.2,-7.3,-7.8,-8.4, -9.0,-9.3,-9.1,-8.7,-8.5,-8.7,-9.1,-9.3,-9.0,-8.5, -8.2,-8.3,-8.7,-9.1,-9.2,-8.9,-8.6,-8.8,-9.3,-9.6,-9.6],
  [-6.5,-6.9,-7.3,-7.6,-8.0,-9.1,-9.5,-10.2,-10.3,-10.4,-9.8,-8.9, -7.7,-7.0,-6.6,-6.4,-6.4,-6.8,-7.1,-7.4,-7.7,-8.0, -8.3,-8.5,-8.7,-8.8,-8.8,-8.9,-8.9,-8.8,-8.6,-8.4, -8.3,-8.3,-8.1,-8.1,-8.3,-8.6,-8.4,-8.6,-8.9,-9.2,-9.3],
  [-6.4,-6.8,-7.1,-7.3,-7.6,-8.5,-8.8,-9.3,-9.3,-9.1,-8.4,-7.5, -6.2,-5.2,-4.4,-4.0,-4.0,-4.5,-5.0,-5.4,-5.9,-6.4, -6.9,-7.3,-7.7,-7.9,-8.0,-8.1,-8.1,-8.0,-7.8,-7.6, -7.4,-7.3,-7.1,-7.0,-7.2,-7.6,-7.4,-7.7,-8.0,-8.4,-8.5],
  [-6.6,-7.0,-7.5,-7.8,-8.3,-9.4,-9.9,-10.8,-11.5,-12.2,-12.3,-11.5, -10.0,-8.8,-7.9,-7.4,-7.2,-7.4,-7.7,-8.0,-8.3,-8.6, -8.9,-9.1,-9.3,-9.4,-9.4,-9.4,-9.4,-9.3,-9.1,-8.9, -8.7,-8.6,-8.4,-8.3,-8.4,-8.8,-8.6,-8.8,-9.1,-9.4,-9.5],
  [-6.3,-6.6,-6.9,-7.0,-7.2,-7.9,-7.9,-8.1,-7.6,-7.1,-6.6,-6.3, -6.0,-5.8,-5.6,-5.5,-5.6,-6.0,-6.4,-6.7,-7.1,-7.5, -7.9,-8.2,-8.5,-8.6,-8.6,-8.5,-8.3,-8.0,-7.6,-7.2, -6.8,-6.5,-6.2,-6.0,-6.0,-6.3,-6.2,-6.5,-6.9,-7.3,-7.5],
  [-6.3,-6.5,-6.7,-6.7,-6.8,-7.3,-7.1,-6.9,-6.5,-6.4,-6.6,-7.0, -7.3,-7.3,-7.1,-6.9,-6.8,-7.0,-7.2,-7.4,-7.6,-7.8, -8.0,-8.1,-8.1,-8.0,-7.8,-7.5,-7.1,-6.7,-6.2,-5.8, -5.5,-5.3,-5.1,-5.0,-5.0,-5.2,-5.0,-5.0,-5.2,-5.4,-5.5],
  [-6.5,-6.9,-7.3,-7.5,-7.9,-9.0,-9.4,-10.0,-10.3,-10.5,-10.1,-9.3, -8.1,-7.3,-6.9,-6.7,-6.8,-7.2,-7.6,-8.0,-8.3,-8.6, -8.9,-9.1,-9.3,-9.4,-9.5,-9.6,-9.6,-9.5,-9.3,-9.1, -9.0,-9.0,-8.9,-8.9,-9.1,-9.5,-9.3,-9.5,-9.8,-10.1,-10.2],
  [-6.5,-6.9,-7.3,-7.5,-7.9,-8.9,-9.3,-9.8,-9.9,-9.8,-9.2,-8.4, -7.3,-6.7,-6.4,-6.2,-6.3,-6.7,-7.0,-7.3,-7.5,-7.8, -8.1,-8.4,-8.8,-9.0,-9.2,-9.4,-9.5,-9.4,-9.2,-9.0, -8.8,-8.8,-8.7,-8.7,-8.9,-9.3,-9.2,-9.4,-9.7,-10.0,-10.1],
  [-6.6,-7.1,-7.6,-8.0,-8.6,-9.8,-10.4,-11.3,-11.9,-12.2,-11.8,-11.0, -10.5,-10.6,-10.7,-11.3,-11.2,-10.5,-9.9,-9.6,-9.5,-9.5, -9.6,-9.8,-9.9,-9.9,-9.8,-9.6,-9.4,-9.1,-8.8,-8.6, -8.5,-8.5,-8.4,-8.4,-8.6,-9.0,-8.8,-9.0,-9.3,-9.6,-9.7],
  [-6.5,-6.9,-7.3,-7.5,-7.9,-9.0,-9.4,-10.0,-10.2,-10.3,-9.7,-8.9, -7.8,-7.2,-6.9,-6.8,-6.9,-7.4,-7.9,-8.4,-8.9,-9.4, -9.8,-10.2,-10.6,-10.9,-11.1,-11.3,-11.4,-11.6,-12.0,-12.2, -12.0,-11.6,-11.2,-10.8,-10.8,-11.1,-10.9,-11.1,-11.4,-11.7,-11.8],
  [-6.4,-6.8,-7.2,-7.4,-7.8,-8.8,-9.2,-9.8,-9.9,-9.8,-9.2,-8.4, -7.3,-6.6,-6.2,-6.0,-6.0,-6.4,-6.8,-7.1,-7.4,-7.8, -8.1,-8.4,-8.6,-8.7,-8.8,-8.9,-9.0,-9.0,-8.9,-8.8, -8.8,-8.9,-8.9,-9.0,-9.3,-9.8,-10.0,-10.6,-11.5,-12.8,-14.3],
  [-6.6,-7.0,-7.5,-7.8,-8.3,-9.4,-9.9,-10.6,-10.9,-11.0,-10.5,-9.6, -8.3,-7.5,-7.1,-6.9,-6.9,-7.3,-7.7,-8.1,-8.4,-8.8, -9.2,-9.5,-9.8,-10.0,-10.1,-10.2,-10.3,-10.3,-10.2,-10.1, -10.1,-10.2,-10.2,-10.3,-10.6,-11.1,-11.2,-11.7,-12.4,-13.2,-13.5],
  [-6.5,-6.9,-7.3,-7.6,-8.1,-9.2,-9.7,-10.5,-10.9,-11.2,-10.8,-9.9, -8.5,-7.5,-7.0,-6.7,-6.7,-7.1,-7.5,-7.8,-8.1,-8.5, -8.8,-9.0,-9.2,-9.3,-9.3,-9.4,-9.4,-9.3,-9.1,-8.9, -8.8,-8.8,-8.6,-8.6,-8.8,-9.2,-9.0,-9.2,-9.5,-9.8,-9.9],
  [-6.5,-6.9,-7.4,-7.7,-8.2,-9.4,-10.0,-10.9,-11.6,-12.2,-12.6,-12.3, -11.2,-9.5,-8.3,-7.7,-7.5,-7.7,-8.0,-8.2,-8.4,-8.6, -8.8,-9.0,-9.1,-9.2,-9.2,-9.3,-9.3,-9.2,-9.0,-8.8, -8.7,-8.7,-8.5,-8.5,-8.7,-9.0,-8.9,-9.1,-9.4,-9.7,-9.8],
  [-6.6,-7.1,-7.7,-8.2,-9.0,-10.0,-10.3,-10.6,-10.4,-10.1,-9.5,-8.8, -7.9,-7.4,-7.2,-7.2,-7.4,-8.0,-8.6,-9.2,-9.8,-10.4, -10.9,-11.4,-11.8,-12.3,-12.8,-13.2,-13.1,-12.8,-12.3,-11.8, -11.3,-10.9,-10.5,-10.2,-10.1,-10.3,-10.1,-10.2,-10.4,-10.6,-10.7],
  [-6.4,-6.7,-7.1,-7.3,-7.6,-8.6,-8.9,-9.4,-9.4,-9.2,-8.5,-7.7, -6.9,-6.2,-6.1,-6.4,-7.0,-7.6,-7.9,-7.8,-7.5,-7.4, -7.6,-8.0,-8.3,-8.2,-7.9,-7.8,-8.1,-8.6,-8.9,-8.7, -8.2,-7.9,-7.9,-8.3,-8.8,-9.0,-8.7,-8.4,-8.5,-8.9,-9.1],
  [-6.3,-6.6,-6.9,-7.0,-7.3,-8.1,-8.3,-8.7,-8.6,-8.4,-7.8,-7.1, -6.2,-5.7,-5.4,-5.3,-5.4,-5.8,-6.2,-6.5,-6.8,-7.1, -7.4,-7.6,-7.7,-7.6,-7.3,-6.9,-6.4,-5.8,-5.2,-4.6, -4.1,-3.8,-3.5,-3.4,-3.7,-4.2,-4.5,-4.9,-5.4,-5.9,-6.2],
  [-6.5,-6.9,-7.3,-7.6,-8.0,-9.1,-9.6,-10.4,-10.8,-11.1,-10.7,-9.8, -8.5,-7.6,-7.1,-6.9,-7.0,-7.4,-7.8,-8.1,-8.4,-8.7, -9.0,-9.2,-9.4,-9.5,-9.5,-9.6,-9.6,-9.5,-9.3,-9.1, -9.0,-9.0,-8.9,-8.9,-9.1,-9.5,-9.3,-9.5,-9.8,-10.1,-10.2],
  [-6.4,-6.8,-7.2,-7.4,-7.8,-8.8,-9.1,-9.7,-9.7,-9.6,-8.9,-8.1, -7.3,-7.0,-6.6,-6.3,-6.3,-6.7,-7.3,-7.9,-8.3,-8.3, -8.0,-7.8,-8.0,-8.5,-9.0,-9.2,-8.9,-8.5,-8.3,-8.4, -8.8,-9.1,-9.0,-8.6,-8.4,-8.7,-9.2,-9.4,-9.1,-8.9,-9.2],
  [-6.4,-6.8,-7.2,-7.4,-7.8,-8.8,-9.2,-9.7,-9.8,-9.7,-9.0,-8.1, -6.9,-6.0,-5.4,-4.9,-4.7,-4.9,-5.3,-5.7,-6.1,-6.5, -6.9,-7.3,-7.6,-7.8,-7.9,-8.0,-8.1,-8.0,-7.8,-7.6, -7.4,-7.3,-7.1,-7.0,-7.2,-7.6,-7.5,-7.8,-8.2,-8.6,-8.8],
];

// Precipitation (mm per 6 h), steps 1..60
const MEAN_PRECIP = [0.3,0.3,0.3,0.4,0.7,0.4,0.3,0.2,0.2,0.2, 0.2,0.3,0.3,0.2,0.2,0.3,0.2,0.2,0.2,0.4, 0.4,0.5,0.5,0.7,1.0,1.0,0.9,0.8,0.6,0.7, 0.5,0.5,0.3,0.3,0.3,0.3,0.3,0.3,0.3,0.3, 0.3,0.3,0.3,0.3,0.3,0.4,0.3,0.3,0.3,0.3, 0.3,0.3,0.3,0.3,0.3,0.3,0.3,0.3,0.3,0.3];
const CTRL_PRECIP = [0,0,0,0.3,1.1,0.4,0,0,0,0, 0,0.2,0.1,0,0,0,0,0,0,0.1, 0.1,0.2,0.1,0.5,8.2,0.6,0.2,0.1,0.3,0.3, 0.2,0.1,0,0,0,0,0,0,0,0, 0,0,0,0,0,0,0,0,0,0, 0,0,0,0,0,0.4,2.2,0.4,0,0];
// member rain events: [step, mm]; every other step is dry
const PRECIP_EVENTS: number[][][] = [
  [[5,1.2],[25,1.5],[26,0.8]],
  [[5,0.8],[24,0.6],[25,2.0]],
  [[5,1.5],[6,0.6],[27,2.2],[28,3.3],[29,3.2],[30,0.8]],
  [[20,1.4],[21,1.2],[22,0.8],[26,5.5],[27,1.5]],
  [[1,0.4],[5,0.9],[25,1.2]],
  [[5,2.6],[6,1.2],[25,2.5]],
  [[12,0.3],[13,0.3],[23,1.5],[24,4.2],[25,5.0],[26,1.5]],
  [[16,0.3],[25,3.5],[26,2.0]],
  [[20,0.8],[21,2.6],[22,2.3],[23,0.9],[24,2.0],[25,1.0]],
  [[5,1.0],[26,2.6],[27,0.6]],
  [[5,2.0],[26,3.0],[27,1.5]],
  [[43,2.5],[44,0.3]],
  [[25,3.0],[26,9.0],[27,4.0],[28,1.5],[29,1.0],[30,1.0],[31,1.2],[32,0.6]],
  [[26,2.0],[40,0.6],[41,0.6]],
  [[25,1.8]],
  [[5,1.5],[6,1.0],[26,1.2]],
  [[24,3.0],[25,2.0]],
  [[24,1.0],[49,2.5]],
  [[26,1.8],[27,1.0]],
  [[5,0.5],[25,0.8]],
  [[26,4.0],[27,2.0],[28,1.2],[29,2.0],[30,1.0],[31,0.8]],
  [[23,1.8],[24,2.6]],
  [[1,0.9],[5,2.5],[6,2.3],[22,4.4],[23,0.5],[28,5.7],[29,2.6],[30,1.0]],
  [[5,3.7],[6,1.0],[25,3.0],[26,1.0]],
  [[26,2.2],[45,1.9],[46,3.9],[47,1.5]],
  [[5,0.8],[25,2.5]],
  [[5,2.2],[25,2.8],[26,1.4]],
  [[26,3.5],[27,2.2]],
  [[21,1.0],[22,3.8],[23,1.0],[26,2.5]],
  [[26,2.0]],
  [[25,0.8]],
  [[25,0.5]],
  [[5,1.6],[26,3.0],[27,1.4]],
  [[25,1.5],[45,0.9],[46,2.0],[47,0.7]],
  [[22,1.0],[23,2.6],[24,25.6],[25,3.0],[26,1.0]],
  [[24,0.8]],
  [[26,4.5],[27,1.0]],
  [[26,6.0],[27,2.5],[28,0.8]],
  [[26,1.5],[27,6.1],[28,2.5],[29,3.4],[30,21.5],[31,7.5],[32,12.9],[33,0.8],[34,1.7],[35,0.3],[47,1.1]],
  [[53,1.2],[54,1.0],[59,5.5],[60,6.3]],
  [[25,1.0]],
  [[26,1.5],[52,1.7],[53,0.3]],
  [[25,3.0],[26,1.0]],
  [[25,2.0],[26,10.4],[27,2.0],[28,0.6]],
  [[1,1.0],[5,2.0],[6,0.5],[28,2.5],[29,0.8],[46,1.3],[47,1.1]],
  [[24,0.5]],
  [[25,1.0]],
  [[25,2.8],[26,1.5]],
  [[25,0.6]],
  [[26,1.0]],
];

const xy = (hours: number[], vals: number[]) => vals.map((v, i) => ({ x: hours[i], y: v }));

function memberDataset(data: any[], color: string, axis: string) {
  return {
    data, yAxisID: axis, xAxisID: 'x',
    borderColor: color, backgroundColor: color, borderWidth: 1,
    pointStyle: 'cross', pointRadius: 2, pointBorderWidth: 1, pointBorderColor: color, pointHoverRadius: 0,
    tension: 0, fill: false, order: 2,
  };
}

function mainDataset(data: any[], color: string, width: number, axis: string, order: number) {
  return {
    data, yAxisID: axis, xAxisID: 'x',
    borderColor: color, backgroundColor: color, borderWidth: width,
    pointRadius: 0, pointHoverRadius: 0, tension: 0, fill: false, order,
    borderJoinStyle: 'miter', borderCapStyle: 'butt',
  };
}

const tickFont = { family: FONT, size: 10 };

export default function App() {
  const ref = useRef<HTMLCanvasElement>(null);

  useEffect(() => {
    const canvas = ref.current;
    if (!canvas) return;
    const datasets: any[] = [];
    for (let m = 0; m < 50; m++) {
      const c = MEMBER_COLORS[m];
      const t850 = [...HEAD_850[HEAD_IDX_850[m]], ...TAIL_850[m]];
      const t500 = [...HEAD_500[HEAD_IDX_500[m]], ...TAIL_500[m]];
      const rr = PRECIP_HOURS.map(() => 0);
      PRECIP_EVENTS[m].forEach(([s, mm]) => { rr[s - 1] = mm; });
      datasets.push(memberDataset(xy(HOURS, t850), c, 'y'));
      datasets.push(memberDataset(xy(HOURS, t500), c, 'y'));
      datasets.push(memberDataset(xy(PRECIP_HOURS, rr), c, 'y2'));
    }
    datasets.push(mainDataset(xy(HOURS, CTRL_850), '#000000', 3.5, 'y', 1));
    datasets.push(mainDataset(xy(HOURS, CTRL_500), '#000000', 3.5, 'y', 1));
    datasets.push(mainDataset(xy(PRECIP_HOURS, CTRL_PRECIP), '#000000', 3.5, 'y2', 1));
    datasets.push(mainDataset(xy(HOURS, MEAN_850), '#ff0000', 4.5, 'y', 0));
    datasets.push(mainDataset(xy(HOURS, MEAN_500), '#ff0000', 4.5, 'y', 0));
    datasets.push(mainDataset(xy(PRECIP_HOURS, MEAN_PRECIP), '#ff0000', 4.5, 'y2', 0));

    const zeroPad = (s: any) => { s.paddingTop = 0; s.paddingBottom = 0; s.paddingLeft = 0; s.paddingRight = 0; };

    const chart = new Chart(canvas, {
      type: 'line',
      data: { datasets },
      options: {
        animation: false,
        responsive: false,
        events: [],
        layout: { padding: { left: 20, right: 0, top: 0, bottom: 0 }, autoPadding: false },
        plugins: { legend: { display: false }, tooltip: { enabled: false }, title: { display: false } },
        scales: {
          x: {
            type: 'linear', position: 'bottom', min: 0, max: 360,
            afterBuildTicks: (s: any) => { s.ticks = DAY_TICKS.map((v) => ({ value: v })); },
            afterFit: (s: any) => { s.height = 100; zeroPad(s); },
            grid: { color: '#c0c0c0', lineWidth: 1, drawTicks: false },
            border: { display: true, color: '#000000', width: 1 },
            ticks: {
              autoSkip: false, maxRotation: 90, minRotation: 90, padding: 2, labelOffset: 4,
              color: '#000000', font: { family: FONT, size: 9, lineHeight: 0.8 },
              callback: (v: any) => { const k = DAY_TICKS.indexOf(Number(v)); return k >= 0 ? DATE_LABELS[k] : ''; },
            },
          },
          y: {
            type: 'linear', position: 'left', min: -52.8, max: 33.3,
            afterBuildTicks: (s: any) => { s.ticks = LEFT_TICKS.map((v) => ({ value: v })); },
            afterFit: (s: any) => { s.width = 30; zeroPad(s); },
            grid: {
              drawTicks: false,
              color: (ctx: any) => (ctx.tick && ctx.tick.value === 0 ? '#a6a6a6' : '#c0c0c0'),
              lineWidth: (ctx: any) => {
                const v = ctx.tick ? ctx.tick.value : 1;
                if (v === 0) return 3;
                return v % 10 === 0 ? 2 : 1;
              },
            },
            border: { display: true, color: '#000000', width: 1 },
            ticks: { crossAlign: 'far', padding: 0, color: '#000000', font: tickFont, callback: (v: any) => String(v) },
          },
          y2: {
            type: 'linear', position: 'right', min: -7.8, max: 78.3,
            afterBuildTicks: (s: any) => { s.ticks = RIGHT_TICKS.map((v) => ({ value: v })); },
            afterFit: (s: any) => { s.width = 50; zeroPad(s); },
            grid: { drawOnChartArea: false, drawTicks: false },
            border: { display: true, color: '#000000', width: 1 },
            ticks: { crossAlign: 'near', padding: 20, color: '#000000', font: tickFont, callback: (v: any) => String(v) },
          },
        },
      } as any,
    });
    return () => chart.destroy();
  }, []);

  const text = (s: string, left: number, center: number, extra: React.CSSProperties = {}) => (
    <div style={{ position: 'absolute', left, top: center - 7, height: 14, lineHeight: '14px', fontSize: 10, whiteSpace: 'pre', ...extra }}>{s}</div>
  );

  const swatchX = (k: number) => 430 + k * 10.96;

  return (
    <div style={{ position: 'fixed', left: 0, top: 0, width: 740, height: 700, background: '#ffffff', overflow: 'hidden', fontFamily: FONT, color: '#000000' }}>
      <canvas ref={ref} width={740} height={700} style={{ position: 'absolute', left: 0, top: 0, width: 740, height: 700 }} />
      {text('Temp. 850hPa', 60, 57)}
      {text('Temp. 500hPa', 60, 264)}
      {text('Précipitations', 60, 512)}
      {text('(°C)', 20, 604)}
      {text('(mm)', 710, 604)}
      <div style={{ position: 'absolute', left: 35, top: 637, width: 30, height: 5, background: '#ff0000' }} />
      {text('Moyenne des scénarios', 75, 639)}
      <div style={{ position: 'absolute', left: 225, top: 637, width: 37, height: 5, background: '#000000' }} />
      {text('Contrôle/Det', 265, 639)}
      {text('50 Perts.', 368, 652)}
      {MEMBER_COLORS.map((c, m) => {
        const k = m % 25;
        const row = m < 25 ? 0 : 1;
        return (
          <div key={'s' + m} style={{ position: 'absolute', left: swatchX(k), top: 645 + row * 6, width: 10, height: 6, background: c }} />
        );
      })}
      {MEMBER_COLORS.map((_, m) => {
        const k = m % 25;
        const row = m < 25 ? 0 : 1;
        const label = String(m + 1).padStart(2, '0');
        return (
          <div key={'n' + m} style={{ position: 'absolute', left: swatchX(k) - 1, width: 12, textAlign: 'center', top: row === 0 ? 636 : 657, height: 9, lineHeight: '9px', fontSize: 8, fontWeight: 'bold', letterSpacing: -0.3 }}>{label}</div>
        );
      })}
      <div style={{ position: 'absolute', left: 20, top: 668, width: 421, height: 40, border: '2px solid #000000', boxSizing: 'border-box' }} />
      {text('Diagramme ensembles ECMWF/CEP 0.25° sur 360h : 40.6N 22.9E', 30, 677, { fontSize: 11.4, fontWeight: 'bold' })}
      {text('Températures 850hPa et 500hPa (°C) , précipitations (mm)', 30, 691)}
      {text('Ensemble ECMWF/CEP du 28/08/2026 - 12Z', 450, 676)}
      {text('Copyright 2026 Meteociel.fr - ECMWF', 450, 691.5, { fontSize: 11.5, fontWeight: 'bold' })}
    </div>
  );
}
